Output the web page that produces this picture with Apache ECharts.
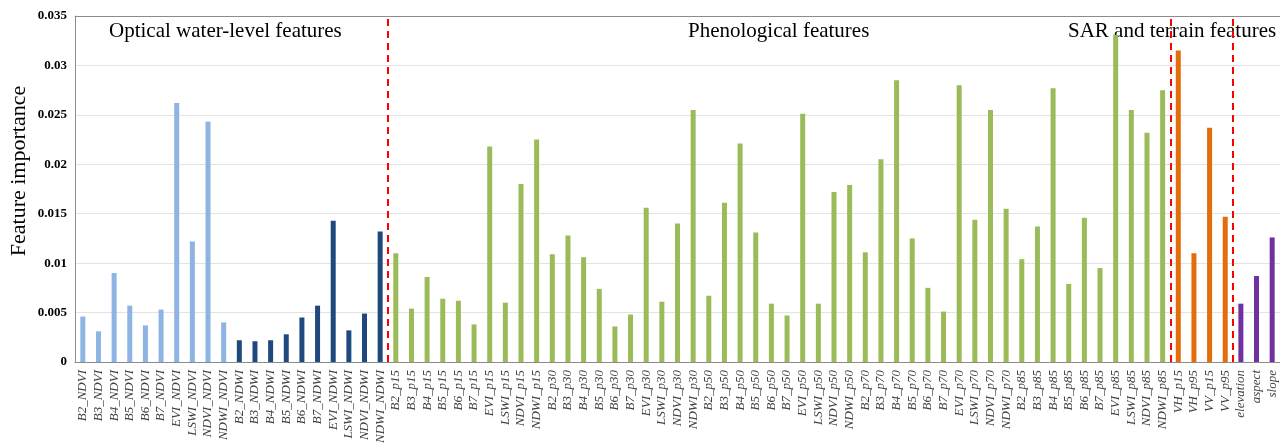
<!DOCTYPE html>
<html><head><meta charset="utf-8">
<script src="https://cdn.jsdelivr.net/npm/echarts@6/dist/echarts.min.js"></script>
<style>html,body{margin:0;padding:0;background:#fff}#c{width:1280px;height:444px}</style>
</head><body><div id="c"></div>
<script>
const opticalNdviCats = ['B2_NDVI','B3_NDVI','B4_NDVI','B5_NDVI','B6_NDVI','B7_NDVI','EVI_NDVI','LSWI_NDVI','NDVI_NDVI','NDWI_NDVI'];
const opticalNdviVals = [0.0046,0.0031,0.0090,0.0057,0.0037,0.0053,0.0262,0.0122,0.0243,0.0040];
const opticalNdwiCats = ['B2_NDWI','B3_NDWI','B4_NDWI','B5_NDWI','B6_NDWI','B7_NDWI','EVI_NDWI','LSWI_NDWI','NDVI_NDWI','NDWI_NDWI'];
const opticalNdwiVals = [0.0022,0.0021,0.0022,0.0028,0.0045,0.0057,0.0143,0.0032,0.0049,0.0132];
const phenoCats = [
 'B2_p15','B3_p15','B4_p15','B5_p15','B6_p15','B7_p15','EVI_p15','LSWI_p15','NDVI_p15','NDWI_p15',
 'B2_p30','B3_p30','B4_p30','B5_p30','B6_p30','B7_p30','EVI_p30','LSWI_p30','NDVI_p30','NDWI_p30',
 'B2_p50','B3_p50','B4_p50','B5_p50','B6_p50','B7_p50','EVI_p50','LSWI_p50','NDVI_p50','NDWI_p50',
 'B2_p70','B3_p70','B4_p70','B5_p70','B6_p70','B7_p70','EVI_p70','LSWI_p70','NDVI_p70','NDWI_p70',
 'B2_p85','B3_p85','B4_p85','B5_p85','B6_p85','B7_p85','EVI_p85','LSWI_p85','NDVI_p85','NDWI_p85'];
const phenoVals = [
 0.0110,0.0054,0.0086,0.0064,0.0062,0.0038,0.0218,0.0060,0.0180,0.0225,
 0.0109,0.0128,0.0106,0.0074,0.0036,0.0048,0.0156,0.0061,0.0140,0.0255,
 0.0067,0.0161,0.0221,0.0131,0.0059,0.0047,0.0251,0.0059,0.0172,0.0179,
 0.0111,0.0205,0.0285,0.0125,0.0075,0.0051,0.0280,0.0144,0.0255,0.0155,
 0.0104,0.0137,0.0277,0.0079,0.0146,0.0095,0.0331,0.0255,0.0232,0.0275];
const sarCats = ['VH_p15','VH_p95','VV_p15','VV_p95'];
const sarVals = [0.0315,0.0110,0.0237,0.0147];
const terrainCats = ['elevation','aspect','slope'];
const terrainVals = [0.0059,0.0087,0.0126];
const yTicks = [0, 0.005, 0.01, 0.015, 0.02, 0.025, 0.03, 0.035];
const groupBoundaries = [20, 70, 74];
const groupTitles = ['Optical water-level features','Phenological features','SAR and terrain features'];
const yTitle = 'Feature importance';

const groups = [
  {cats: opticalNdviCats, vals: opticalNdviVals, color: '#8DB4E2'},
  {cats: opticalNdwiCats, vals: opticalNdwiVals, color: '#1F497D'},
  {cats: phenoCats, vals: phenoVals, color: '#9BBB59'},
  {cats: sarCats, vals: sarVals, color: '#E46C0A'},
  {cats: terrainCats, vals: terrainVals, color: '#7030A0'}
];
const categories = [];
const data = [];
groups.forEach(g => g.cats.forEach((c, i) => {
  categories.push(c);
  data.push({value: g.vals[i], itemStyle: {color: g.color}});
}));

const chart = echarts.init(document.getElementById('c'));
chart.setOption({
  animation: false,
  grid: {left: 75, right: 0, top: 16, bottom: 82, outerBoundsMode: 'none', containLabel: false},
  xAxis: [{
    type: 'category', data: categories,
    axisLine: {lineStyle: {color: '#8c8c8c'}},
    axisTick: {show: false},
    axisLabel: {interval: 0, rotate: 90, fontFamily: 'Liberation Serif', fontStyle: 'italic', fontSize: 13, color: '#404040', margin: 8}
  }, {
    type: 'value', min: 0, max: categories.length, position: 'top',
    axisLine: {show: true, lineStyle: {color: '#8c8c8c'}},
    axisTick: {show: false}, axisLabel: {show: false}, splitLine: {show: false}
  }],
  yAxis: {
    type: 'value', min: yTicks[0], max: yTicks[yTicks.length-1], interval: yTicks[1]-yTicks[0],
    axisLine: {show: true, lineStyle: {color: '#8c8c8c'}},
    axisTick: {show: false},
    axisLabel: {fontFamily: 'Liberation Serif', fontWeight: 'bold', fontSize: 13, color: '#000', margin: 8},
    splitLine: {lineStyle: {color: '#e3e3e3'}}
  },
  series: [{
    type: 'bar', data: data, barWidth: 5, xAxisIndex: 0
  }, {
    type: 'line', xAxisIndex: 1, data: [], symbol: 'none',
    markLine: {
      silent: true, symbol: 'none', label: {show: false},
      lineStyle: {color: '#FF0000', type: [7, 5], width: 2},
      data: groupBoundaries.map(b => ({xAxis: b}))
    }
  }],
  graphic: [
    {type: 'text', left: 109, top: 21, style: {text: groupTitles[0], font: '21px "Liberation Serif"', fill: '#000'}},
    {type: 'text', left: 688, top: 21, style: {text: groupTitles[1], font: '21px "Liberation Serif"', fill: '#000'}},
    {type: 'text', left: 1068, top: 21, style: {text: groupTitles[2], font: '21px "Liberation Serif"', fill: '#000'}},
    {type: 'text', x: 19, y: 171, rotation: Math.PI/2, style: {text: yTitle, font: '22px "Liberation Serif"', fill: '#000', align: 'center', verticalAlign: 'middle'}}
  ]
});
</script></body></html>
